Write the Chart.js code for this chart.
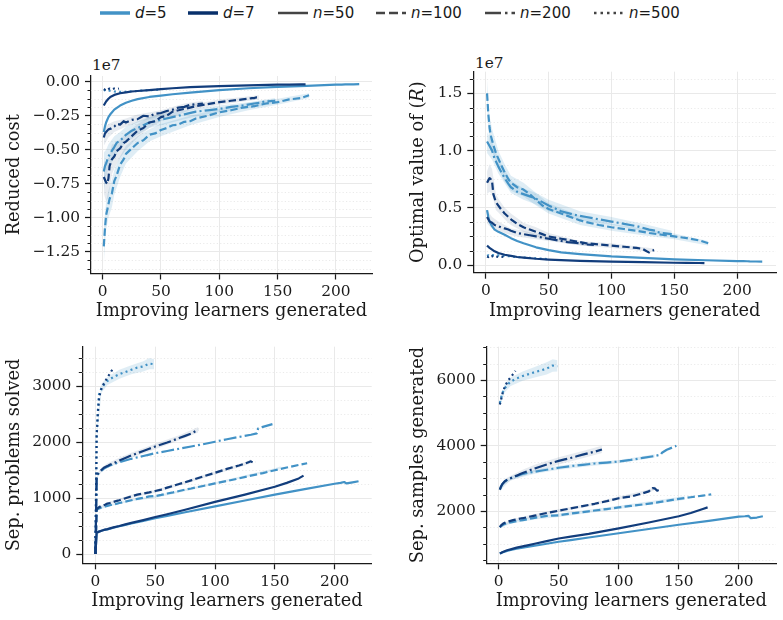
<!DOCTYPE html>
<html><head><meta charset="utf-8">
<script src="https://cdn.jsdelivr.net/npm/chart.js@4.4.1/dist/chart.umd.min.js"></script>
<style>
html,body{margin:0;padding:0;background:#fff;}
body{width:783px;height:620px;position:relative;overflow:hidden;}
canvas{position:absolute;}
.li{position:absolute;top:3px;height:20px;line-height:20px;white-space:nowrap;font-family:'DejaVu Sans',sans-serif;font-size:15px;color:#1a1a1a;}
.sw{position:absolute;top:8px;}
.off{position:absolute;font-family:'DejaVu Serif',serif;font-size:15.3px;color:#1a1a1a;line-height:16px;}
</style></head><body>
<div id="legend"></div>
<div class="off" style="left:92px;top:57px;">1e7</div>
<div class="off" style="left:475px;top:55px;">1e7</div>
<canvas id="tl" width="391" height="290" style="left:0;top:40px"></canvas>
<canvas id="tr" width="379" height="290" style="left:404px;top:40px"></canvas>
<canvas id="bl" width="391" height="290" style="left:0;top:330px"></canvas>
<canvas id="br" width="379" height="290" style="left:404px;top:330px"></canvas>
<script>
// ---------- shared x positions (improving learners generated) ----------
const X_TICKS = [0,50,100,150,200];
const X_D5N50  = [1,2,3,5,7,10,15,20,25,30,40,50,60,75,100,125,150,175,200,205,208,210,215,220];
const X_D7N50  = [1,2,3,5,7,10,15,20,25,30,40,50,60,75,100,125,150,160,170,174];
const X_D5N100 = [1,2,3,4,5,6,8,10,12,15,18,20,25,30,35,40,45,50,55,60,65,70,75,80,90,100,110,120,130,140,150,160,170,177];
const X_D7N100 = [1,2,3,4,5,6,8,10,12,15,18,20,25,30,35,40,45,50,55,60,70,80,90,100,110,120,125,128,130,132,134];
const X_D5N200 = [1,2,3,5,7,10,12,15,18,20,25,30,35,40,45,50,60,70,80,90,100,110,120,130,135,136,140,148];
const X_D7N200 = [1,2,3,5,7,10,12,15,18,20,25,30,35,40,45,50,55,60,65,70,75,80,86];
const X_D5N500 = [1,2,3,5,8,10,15,20,25,30,35,40,45,49];
const X_D7N500 = [1,2,3,4,5,6,8,10,12,14];
const BL_X_D5N50  = [0,1,2,3,5,7,10,15,20,25,30,40,50,60,75,100,125,150,175,200,205,208,210,215,220];
const BL_X_D7N50  = [0,1,2,3,5,7,10,15,20,25,30,40,50,60,75,100,125,150,160,170,174];
const BL_X_D5N100 = [0,1,2,3,4,5,6,8,10,12,15,18,20,25,30,35,40,45,50,55,60,65,70,75,80,90,100,110,120,130,140,150,160,170,177];
const BL_X_D7N100 = [0,1,2,3,4,5,6,8,10,12,15,18,20,25,30,35,40,45,50,55,60,70,80,90,100,110,120,125,128,130,132,134];
const BL_X_D5N200 = [0,1,2,3,5,7,10,12,15,18,20,25,30,35,40,45,50,60,70,80,90,100,110,120,130,135,136,140,148];
const BL_X_D7N200 = [0,1,2,3,5,7,10,12,15,18,20,25,30,35,40,45,50,55,60,65,70,75,80,86];
const BL_X_D5N500 = [0,1,2,3,5,8,10,15,20,25,30,35,40,45,49];
const BL_X_D7N500 = [0,1,2,3,4,5,6,8,10,12,14];

// ---------- top-left: Reduced cost (x1e7) ----------
const TL_YTICKS = [-1.25,-1.0,-0.75,-0.5,-0.25,0];
const TL_D5N50  = [-0.37,-0.33,-0.30,-0.26,-0.235,-0.205,-0.175,-0.155,-0.14,-0.128,-0.112,-0.102,-0.092,-0.08,-0.062,-0.048,-0.038,-0.030,-0.022,-0.021,-0.020,-0.020,-0.019,-0.017];
const TL_D7N50  = [-0.175,-0.16,-0.145,-0.125,-0.11,-0.097,-0.085,-0.078,-0.072,-0.068,-0.062,-0.055,-0.048,-0.040,-0.032,-0.027,-0.022,-0.021,-0.020,-0.019];
const TL_D5N100 = [-1.21,-1.08,-0.98,-0.94,-0.90,-0.86,-0.82,-0.73,-0.69,-0.61,-0.57,-0.53,-0.49,-0.45,-0.43,-0.39,-0.38,-0.355,-0.34,-0.32,-0.315,-0.295,-0.29,-0.27,-0.25,-0.225,-0.21,-0.19,-0.18,-0.16,-0.15,-0.13,-0.12,-0.10];
const TL_D7N100 = [-0.70,-0.72,-0.74,-0.75,-0.71,-0.62,-0.57,-0.55,-0.51,-0.49,-0.45,-0.44,-0.40,-0.36,-0.34,-0.30,-0.29,-0.26,-0.25,-0.22,-0.20,-0.18,-0.165,-0.15,-0.14,-0.13,-0.125,-0.12,-0.12,-0.115,-0.115];
const TL_D5N200 = [-0.66,-0.62,-0.60,-0.55,-0.52,-0.48,-0.45,-0.43,-0.41,-0.39,-0.36,-0.34,-0.32,-0.30,-0.29,-0.28,-0.26,-0.24,-0.22,-0.21,-0.20,-0.185,-0.175,-0.16,-0.155,-0.15,-0.145,-0.14];
const TL_D7N200 = [-0.41,-0.38,-0.37,-0.35,-0.345,-0.33,-0.31,-0.315,-0.29,-0.30,-0.28,-0.275,-0.25,-0.255,-0.235,-0.23,-0.215,-0.205,-0.19,-0.185,-0.17,-0.165,-0.16];
const TL_D5N500 = [-0.065,-0.062,-0.068,-0.064,-0.07,-0.072,-0.075,-0.074,-0.07,-0.068,-0.064,-0.062,-0.06,-0.058];
const TL_D7N500 = [-0.055,-0.058,-0.052,-0.06,-0.055,-0.05,-0.057,-0.05,-0.054,-0.05];
const TL_B_D5N100_X  = [1,2,3,5,8,10,15,20,30,40,50,75,100,125,150,177];
const TL_B_D5N100_LO = [-1.34,-1.20,-1.09,-1.00,-0.92,-0.83,-0.70,-0.60,-0.51,-0.44,-0.40,-0.32,-0.26,-0.21,-0.17,-0.12];
const TL_B_D5N100_HI = [-1.09,-0.97,-0.88,-0.80,-0.72,-0.65,-0.55,-0.47,-0.40,-0.35,-0.31,-0.25,-0.20,-0.155,-0.125,-0.085];
const TL_B_D5N200_X  = [1,3,5,10,15,20,30,40,50,75,100,125,148];
const TL_B_D5N200_LO = [-0.80,-0.70,-0.64,-0.56,-0.49,-0.45,-0.39,-0.34,-0.32,-0.265,-0.225,-0.195,-0.16];
const TL_B_D5N200_HI = [-0.52,-0.50,-0.46,-0.40,-0.37,-0.33,-0.29,-0.26,-0.24,-0.205,-0.175,-0.15,-0.12];
const TL_B_D7N100_X  = [1,3,5,8,10,15,20,30,40,50,75,100,134];
const TL_B_D7N100_LO = [-0.82,-0.88,-0.85,-0.68,-0.64,-0.56,-0.50,-0.41,-0.34,-0.29,-0.21,-0.17,-0.13];
const TL_B_D7N100_HI = [-0.58,-0.60,-0.57,-0.46,-0.46,-0.42,-0.38,-0.31,-0.26,-0.23,-0.17,-0.13,-0.10];
const TL_B_D7N200_X  = [1,5,10,20,30,50,70,86];
const TL_B_D7N200_LO = [-0.47,-0.41,-0.37,-0.33,-0.30,-0.25,-0.20,-0.18];
const TL_B_D7N200_HI = [-0.35,-0.31,-0.29,-0.27,-0.24,-0.21,-0.16,-0.14];

// ---------- top-right: Optimal value of (R) (x1e7) ----------
const TR_YTICKS = [0,0.5,1.0,1.5];
const TR_D5N50  = [0.48,0.42,0.38,0.34,0.31,0.29,0.265,0.235,0.21,0.19,0.155,0.13,0.11,0.095,0.075,0.062,0.05,0.042,0.035,0.034,0.033,0.032,0.031,0.03];
const TR_D7N50  = [0.17,0.16,0.15,0.135,0.12,0.105,0.09,0.08,0.07,0.065,0.055,0.048,0.043,0.037,0.03,0.025,0.02,0.019,0.018,0.017];
const TR_D5N100 = [1.50,1.32,1.20,1.13,1.09,1.05,0.98,0.93,0.88,0.81,0.75,0.72,0.68,0.66,0.62,0.57,0.52,0.49,0.47,0.45,0.43,0.41,0.39,0.375,0.35,0.33,0.315,0.30,0.28,0.265,0.25,0.235,0.215,0.19];
const TR_D7N100 = [0.72,0.74,0.76,0.75,0.73,0.62,0.55,0.52,0.49,0.45,0.42,0.40,0.36,0.33,0.31,0.29,0.27,0.25,0.24,0.23,0.21,0.19,0.18,0.17,0.16,0.15,0.14,0.12,0.11,0.125,0.13];
const TR_D5N200 = [1.08,1.06,1.04,1.00,0.93,0.86,0.82,0.76,0.71,0.68,0.64,0.62,0.60,0.58,0.55,0.52,0.47,0.44,0.42,0.40,0.38,0.36,0.34,0.31,0.30,0.29,0.28,0.27];
const TR_D7N200 = [0.42,0.40,0.38,0.37,0.35,0.34,0.33,0.32,0.31,0.30,0.28,0.27,0.26,0.25,0.24,0.23,0.22,0.21,0.20,0.195,0.19,0.18,0.175];
const TR_D5N500 = [0.08,0.085,0.08,0.086,0.082,0.085,0.08,0.076,0.07,0.066,0.062,0.058,0.055,0.052];
const TR_D7N500 = [0.075,0.07,0.08,0.072,0.078,0.07,0.075,0.07,0.074,0.07];
const TR_B_D5N100_X  = [1,2,3,5,10,15,20,30,40,50,75,100,125,150,177];
const TR_B_D5N100_LO = [1.38,1.18,1.08,0.99,0.84,0.73,0.65,0.60,0.52,0.45,0.35,0.30,0.26,0.225,0.17];
const TR_B_D5N100_HI = [1.62,1.42,1.30,1.19,1.00,0.88,0.78,0.72,0.63,0.54,0.43,0.36,0.32,0.275,0.21];
const TR_B_D5N200_X  = [1,5,10,20,30,40,50,75,100,125,148];
const TR_B_D5N200_LO = [0.98,0.92,0.80,0.63,0.57,0.53,0.47,0.39,0.35,0.30,0.25];
const TR_B_D5N200_HI = [1.16,1.08,0.93,0.74,0.67,0.63,0.57,0.47,0.42,0.36,0.30];
const TR_B_D7N100_X  = [1,3,5,8,10,15,20,30,40,50,75,100,134];
const TR_B_D7N100_LO = [0.62,0.64,0.62,0.48,0.46,0.40,0.35,0.29,0.25,0.22,0.17,0.15,0.115];
const TR_B_D7N100_HI = [0.82,0.88,0.84,0.62,0.58,0.50,0.45,0.37,0.33,0.28,0.21,0.19,0.145];
const TR_B_D7N200_X  = [1,5,10,20,30,50,70,86];
const TR_B_D7N200_LO = [0.36,0.32,0.30,0.26,0.24,0.21,0.18,0.16];
const TR_B_D7N200_HI = [0.48,0.42,0.38,0.32,0.30,0.25,0.21,0.19];

// ---------- bottom-left: Sep. problems solved ----------
const BL_YTICKS = [0,1000,2000,3000];
const BL_D5N50  = [0,380,390,400,415,428,440,470,495,520,545,590,640,680,745,850,955,1060,1160,1255,1270,1285,1260,1280,1300];
const BL_D7N50  = [0,380,390,400,415,430,445,475,500,530,555,605,660,710,790,930,1060,1200,1270,1350,1400];
const BL_D5N100 = [0,790,805,815,822,830,836,848,860,870,885,900,910,935,960,985,1005,1030,1035,1055,1080,1100,1125,1150,1170,1215,1260,1305,1350,1400,1445,1495,1545,1590,1620];
const BL_D7N100 = [0,800,820,835,848,860,868,880,900,910,930,950,960,995,1030,1060,1080,1100,1125,1150,1185,1250,1315,1385,1450,1520,1580,1615,1640,1655,1630,1640];
const BL_D5N200 = [0,1380,1420,1450,1490,1525,1560,1580,1600,1625,1640,1670,1700,1725,1750,1775,1800,1840,1880,1920,1960,2005,2050,2090,2130,2155,2240,2270,2320];
const BL_D7N200 = [0,1380,1430,1460,1500,1540,1570,1595,1620,1650,1670,1715,1760,1800,1840,1880,1920,1955,1990,2030,2070,2110,2150,2220];
const BL_D5N500 = [0,2100,2550,2850,2960,3050,3090,3160,3210,3250,3290,3330,3350,3400,3390];
const BL_D7N500 = [0,2100,2500,2780,2880,2950,3000,3080,3150,3220,3290];
const BL_B_D5N500_X  = [1,5,10,20,30,40,45,49];
const BL_B_D5N500_LO = [2000,2880,3020,3130,3210,3260,3300,3300];
const BL_B_D5N500_HI = [2200,3040,3160,3290,3370,3440,3500,3480];
const BL_B_D7N200_X  = [1,5,10,20,30,50,70,86];
const BL_B_D7N200_LO = [1350,1460,1530,1630,1720,1870,2030,2170];
const BL_B_D7N200_HI = [1420,1540,1620,1720,1810,1970,2120,2270];
const BL_B_D7N100_X  = [1,10,30,50,75,100,125,130];
const BL_B_D7N100_LO = [780,880,1000,1095,1250,1420,1580,1620];
const BL_B_D7N100_HI = [820,920,1060,1145,1310,1480,1640,1690];
const BL_B_D5N100_X  = [1,10,30,50,100,150,155];
const BL_B_D5N100_LO = [770,845,940,1000,1240,1490,1520];
const BL_B_D5N100_HI = [810,875,980,1040,1280,1530,1565];

// ---------- bottom-right: Sep. samples generated ----------
const BR_YTICKS = [2000,4000,6000];
const BR_D5N50  = [700,720,735,760,780,810,850,880,910,940,1000,1060,1110,1190,1320,1450,1580,1700,1830,1840,1850,1780,1800,1840];
const BR_D7N50  = [700,720,740,770,800,830,880,920,960,1000,1080,1160,1220,1300,1470,1650,1840,1940,2060,2110];
const BR_D5N100 = [1500,1540,1565,1585,1600,1615,1635,1650,1665,1690,1710,1720,1755,1790,1820,1850,1860,1870,1895,1920,1945,1965,1990,2015,2060,2110,2155,2200,2250,2310,2370,2420,2470,2510];
const BR_D7N100 = [1510,1560,1590,1620,1640,1655,1680,1700,1720,1745,1770,1780,1820,1860,1900,1940,1975,2010,2045,2080,2150,2220,2300,2390,2440,2540,2600,2700,2690,2620,2650];
const BR_D5N200 = [2650,2750,2820,2900,2950,3000,3030,3070,3110,3130,3170,3200,3230,3260,3290,3320,3370,3410,3450,3480,3510,3560,3620,3680,3720,3780,3870,3990];
const BR_D7N200 = [2650,2750,2820,2900,2950,3000,3040,3080,3130,3160,3230,3300,3360,3420,3480,3530,3575,3620,3670,3720,3770,3810,3880];
const BR_D5N500 = [5300,5450,5600,5750,5880,5950,6050,6120,6180,6240,6290,6350,6440,6420];
const BR_D7N500 = [5250,5400,5560,5680,5780,5860,5990,6080,6180,6280];
const BR_B_D5N500_X  = [1,5,10,20,30,40,45,49];
const BR_B_D5N500_LO = [5200,5620,5820,5980,6080,6170,6250,6260];
const BR_B_D5N500_HI = [5400,5880,6080,6260,6400,6540,6630,6600];
const BR_B_D7N200_X  = [1,5,10,20,30,50,70,86];
const BR_B_D7N200_LO = [2580,2820,2920,3060,3190,3420,3610,3770];
const BR_B_D7N200_HI = [2720,2980,3080,3260,3410,3640,3830,3990];
const BR_B_D5N200_X  = [1,10,30,50,75,100,130];
const BR_B_D5N200_LO = [2620,2950,3140,3260,3370,3460,3630];
const BR_B_D5N200_HI = [2680,3050,3260,3380,3490,3560,3730];
const BR_B_D7N100_X  = [1,10,30,50,75,100,125,130];
const BR_B_D7N100_LO = [1470,1660,1810,1960,2140,2340,2560,2640];
const BR_B_D7N100_HI = [1550,1740,1910,2060,2220,2440,2660,2760];
const BR_B_D5N100_X  = [1,10,30,50,100,150,155];
const BR_B_D5N100_LO = [1470,1610,1740,1820,2060,2310,2340];
const BR_B_D5N100_HI = [1540,1690,1840,1920,2160,2430,2460];

// ---------- styles ----------
const COL = {5:'#4292c6', 7:'#123d7c'};
const LEG_COL = {5:'#4292c6', 7:'#08306b'};
const BAND = {5:'rgba(66,146,198,0.17)', 7:'rgba(20,55,110,0.10)'};
const DASH = {50:[], 100:[7.4,3.2], 200:[12.8,3.2,2,3.2], 500:[2,3.3]};
const INK = '#1a1a1a', GRID = '#e9e9e9';
const FONT_T = {family:"'DejaVu Serif', serif", size:15.4};
const FONT_L = {family:"'DejaVu Serif', serif", size:17.8};

function lineDS(xs, ys, d, n){
  return {data: xs.map((x,i)=>({x:x, y:ys[i]})), borderColor: COL[d], borderWidth: 2.2,
    borderDash: DASH[n], pointRadius:0, fill:false, tension:0, order: d===5?10:5,
    borderCapStyle:'butt', borderJoinStyle:'round'};
}
function bandDS(xs, lo, hi, d){
  return [
    {data: xs.map((x,i)=>({x:x, y:lo[i]})), borderWidth:0, borderColor:'rgba(0,0,0,0)', pointRadius:0, fill:false, order:100},
    {data: xs.map((x,i)=>({x:x, y:hi[i]})), borderWidth:0, borderColor:'rgba(0,0,0,0)', pointRadius:0, fill:'-1', backgroundColor: BAND[d], order:100}
  ];
}
function build(bands, lines){
  let ds = [];
  bands.forEach(b => { ds = ds.concat(bandDS(b[0], b[1], b[2], b[3])); });
  lines.forEach(l => ds.push(lineDS(l[0], l[1], l[2], l[3])));
  return ds;
}

const minorPlugin = {
  id: 'minor',
  beforeDatasetsDraw(chart, args, opts){
    const y = chart.scales.y, ca = chart.chartArea, ctx = chart.ctx, st = opts.step;
    ctx.save(); ctx.strokeStyle = '#e4e4e4'; ctx.lineWidth = 0.8; ctx.setLineDash([1.2,2.2]);
    for (let k = Math.ceil(y.min/st - 1e-9); k <= Math.floor(y.max/st + 1e-9); k++) {
      if (k % 4 === 0) continue;
      const p = Math.round(y.getPixelForValue(k*st)) + 0.5;
      ctx.beginPath(); ctx.moveTo(ca.left, p); ctx.lineTo(ca.right, p); ctx.stroke();
    }
    ctx.restore();
  },
  afterDraw(chart, args, opts){
    const y = chart.scales.y, ca = chart.chartArea, ctx = chart.ctx, st = opts.step;
    ctx.save(); ctx.strokeStyle = INK; ctx.lineWidth = 1;
    for (let k = Math.ceil(y.min/st - 1e-9); k <= Math.floor(y.max/st + 1e-9); k++) {
      if (k % 4 === 0) continue;
      const p = Math.round(y.getPixelForValue(k*st)) + 0.5;
      ctx.beginPath(); ctx.moveTo(ca.left - 3.5, p); ctx.lineTo(ca.left, p); ctx.stroke();
    }
    ctx.restore();
  }
};

function makeChart(id, c){
  return new Chart(document.getElementById(id).getContext('2d'), {
    type: 'line',
    data: {datasets: c.datasets},
    options: {
      responsive:false, animation:false, devicePixelRatio:1,
      layout: {padding: c.pad},
      plugins: {legend:{display:false}, tooltip:{enabled:false}, minor:{step:c.minor}},
      scales: {
        x: {type:'linear', min:c.xmin, max:c.xmax,
          afterBuildTicks: s => { s.ticks = X_TICKS.map(v => ({value:v})); },
          afterFit: s => { s.height = c.xh; },
          ticks: {font:FONT_T, color:INK, padding:3, maxRotation:0, autoSkip:false, callback: v => String(v)},
          grid: {color:GRID, lineWidth:1, tickLength:6, tickColor:INK, tickWidth:1.25},
          border: {color:INK, width:1.25},
          title: {display:true, text:'Improving learners generated', font:FONT_L, color:INK, padding:{top:0,bottom:0}}},
        y: {type:'linear', min:c.ymin, max:c.ymax,
          afterBuildTicks: s => { s.ticks = c.yticks.map(v => ({value:v})); },
          afterFit: s => { s.width = c.yw; },
          ticks: {font:FONT_T, color:INK, padding:5, autoSkip:false, callback: c.fmt},
          grid: {color:GRID, lineWidth:1, tickLength:6, tickColor:INK, tickWidth:1.25},
          border: {color:INK, width:1.25},
          title: {display:true, text:c.ytitle, font:FONT_L, color:INK, padding:{top:4,bottom:0}}}
      }
    },
    plugins: [minorPlugin]
  });
}
const fmt2 = v => v.toFixed(2).replace('-', '\u2212');
const fmt1 = v => v.toFixed(1).replace('-', '\u2212');
const fmt0 = v => String(v);

makeChart('tl', {
  datasets: build(
    [[TL_B_D5N100_X, TL_B_D5N100_LO, TL_B_D5N100_HI, 5], [TL_B_D5N200_X, TL_B_D5N200_LO, TL_B_D5N200_HI, 5],
     [TL_B_D7N100_X, TL_B_D7N100_LO, TL_B_D7N100_HI, 7], [TL_B_D7N200_X, TL_B_D7N200_LO, TL_B_D7N200_HI, 7]],
    [[X_D5N50, TL_D5N50, 5, 50], [X_D5N100, TL_D5N100, 5, 100], [X_D5N200, TL_D5N200, 5, 200], [X_D5N500, TL_D5N500, 5, 500],
     [X_D7N50, TL_D7N50, 7, 50], [X_D7N100, TL_D7N100, 7, 100], [X_D7N200, TL_D7N200, 7, 200], [X_D7N500, TL_D7N500, 7, 500]]),
  pad:{left:0, right:19, top:36, bottom:7.6}, yw:91, xh:48.9,
  xmin:-9.95, xmax:230.95, ymin:-1.409, ymax:0.042, yticks:TL_YTICKS, fmt:fmt2, minor:0.0625, ytitle:'Reduced cost'
});
makeChart('tr', {
  datasets: build(
    [[TR_B_D5N100_X, TR_B_D5N100_LO, TR_B_D5N100_HI, 5], [TR_B_D5N200_X, TR_B_D5N200_LO, TR_B_D5N200_HI, 5],
     [TR_B_D7N100_X, TR_B_D7N100_LO, TR_B_D7N100_HI, 7], [TR_B_D7N200_X, TR_B_D7N200_LO, TR_B_D7N200_HI, 7]],
    [[X_D5N50, TR_D5N50, 5, 50], [X_D5N100, TR_D5N100, 5, 100], [X_D5N200, TR_D5N200, 5, 200], [X_D5N500, TR_D5N500, 5, 500],
     [X_D7N50, TR_D7N50, 7, 50], [X_D7N100, TR_D7N100, 7, 100], [X_D7N200, TR_D7N200, 7, 200], [X_D7N500, TR_D7N500, 7, 500]]),
  pad:{left:0, right:7, top:31.7, bottom:7.6}, yw:69.3, xh:49.7,
  xmin:-9.95, xmax:230.95, ymin:-0.067, ymax:1.69, yticks:TR_YTICKS, fmt:fmt1, minor:0.125, ytitle:'Optimal value of (\uD835\uDC45)'
});
makeChart('bl', {
  datasets: build(
    [[BL_B_D5N500_X, BL_B_D5N500_LO, BL_B_D5N500_HI, 5], [BL_B_D5N100_X, BL_B_D5N100_LO, BL_B_D5N100_HI, 5],
     [BL_B_D7N200_X, BL_B_D7N200_LO, BL_B_D7N200_HI, 7], [BL_B_D7N100_X, BL_B_D7N100_LO, BL_B_D7N100_HI, 7]],
    [[BL_X_D5N50, BL_D5N50, 5, 50], [BL_X_D5N100, BL_D5N100, 5, 100], [BL_X_D5N200, BL_D5N200, 5, 200], [BL_X_D5N500, BL_D5N500, 5, 500],
     [BL_X_D7N50, BL_D7N50, 7, 50], [BL_X_D7N100, BL_D7N100, 7, 100], [BL_X_D7N200, BL_D7N200, 7, 200], [BL_X_D7N500, BL_D7N500, 7, 500]]),
  pad:{left:0, right:19.3, top:16.7, bottom:8.3}, yw:82.3, xh:48.4,
  xmin:-11, xmax:231, ymin:-166, ymax:3702, yticks:BL_YTICKS, fmt:fmt0, minor:250, ytitle:'Sep. problems solved'
});
makeChart('br', {
  datasets: build(
    [[BR_B_D5N500_X, BR_B_D5N500_LO, BR_B_D5N500_HI, 5], [BR_B_D5N200_X, BR_B_D5N200_LO, BR_B_D5N200_HI, 5], [BR_B_D5N100_X, BR_B_D5N100_LO, BR_B_D5N100_HI, 5],
     [BR_B_D7N200_X, BR_B_D7N200_LO, BR_B_D7N200_HI, 7], [BR_B_D7N100_X, BR_B_D7N100_LO, BR_B_D7N100_HI, 7]],
    [[X_D5N50, BR_D5N50, 5, 50], [X_D5N100, BR_D5N100, 5, 100], [X_D5N200, BR_D5N200, 5, 200], [X_D5N500, BR_D5N500, 5, 500],
     [X_D7N50, BR_D7N50, 7, 50], [X_D7N100, BR_D7N100, 7, 100], [X_D7N200, BR_D7N200, 7, 200], [X_D7N500, BR_D7N500, 7, 500]]),
  pad:{left:0, right:7, top:16.7, bottom:8.3}, yw:82.7, xh:48.4,
  xmin:-9.95, xmax:230.95, ymin:403, ymax:7017, yticks:BR_YTICKS, fmt:fmt0, minor:500, ytitle:'Sep. samples generated'
});

// ---------- legend (HTML text, SVG swatches) ----------
const LEGEND = [
  {x:100, sym:'d', val:'5', col:LEG_COL[5], w:3.5, dash:''},
  {x:188, sym:'d', val:'7', col:LEG_COL[7], w:3.5, dash:''},
  {x:278, sym:'n', val:'50', col:'#444', w:2.5, dash:''},
  {x:376, sym:'n', val:'100', col:'#444', w:2.5, dash:'9 4'},
  {x:485, sym:'n', val:'200', col:'#444', w:2.5, dash:'16 4 2.5 4'},
  {x:594, sym:'n', val:'500', col:'#444', w:2.5, dash:'2.5 4'}
];
const lg = document.getElementById('legend');
LEGEND.forEach(e => {
  lg.insertAdjacentHTML('beforeend',
    '<svg class="sw" style="left:'+e.x+'px" width="30" height="10"><line x1="0" y1="5" x2="30" y2="5" stroke="'+e.col+'" stroke-width="'+e.w+'"'+(e.dash?' stroke-dasharray="'+e.dash+'"':'')+'/></svg>' +
    '<div class="li" style="left:'+(e.x+35)+'px"><i>'+e.sym+'</i>='+e.val+'</div>');
});
</script>
</body></html>
